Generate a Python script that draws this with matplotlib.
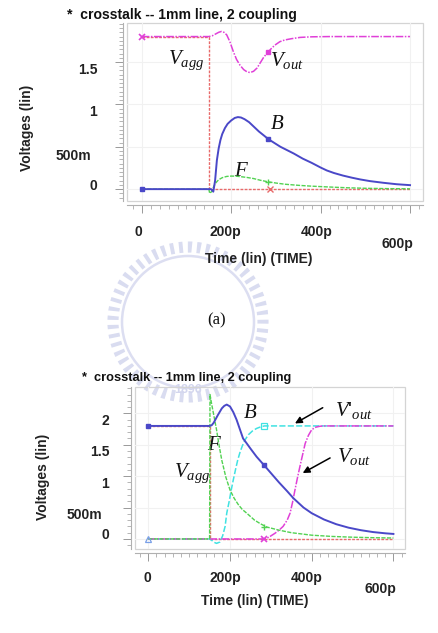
import numpy as np
import matplotlib
matplotlib.use('Agg')
import matplotlib.pyplot as plt
from matplotlib.transforms import ScaledTranslation
from matplotlib.patches import Rectangle, Circle
from matplotlib.ticker import MultipleLocator

plt.rcParams['font.family'] = ['Liberation Sans', 'DejaVu Sans']
plt.rcParams['mathtext.fontset'] = 'custom'
plt.rcParams['mathtext.it'] = 'Liberation Serif:italic'
plt.rcParams['mathtext.rm'] = 'Liberation Serif'

# ---------------- data (time in ps, voltage in V) ----------------
x_ticks = [0, 200, 400, 600]
x_labels = ['0', '200p', '400p', '600p']
top_yticks = [0, 0.5, 1, 1.5]
top_ylabels = ['0', '500m', '1', '1.5']
bot_yticks = [0, 0.5, 1, 1.5, 2]
bot_ylabels = ['0', '500m', '1', '1.5', '2']

# top panel (a)
a_vagg_t = [0, 150, 150, 600]
a_vagg_v = [1.8, 1.8, 0, 0]
a_vagg_mk_t = [0, 287]
a_vagg_mk_v = [1.8, 0]

a_vout_t = [0, 150, 158, 165, 172, 178, 184, 190, 197, 205, 212, 220, 228, 235, 242, 250,
            258, 265, 272, 278, 283, 290, 298, 309, 320, 335, 354, 380, 420, 600]
a_vout_v = [1.8, 1.8, 1.81, 1.83, 1.85, 1.86, 1.85, 1.82, 1.74, 1.62, 1.53, 1.46, 1.41, 1.385,
            1.375, 1.39, 1.43, 1.49, 1.55, 1.59, 1.62, 1.66, 1.70, 1.74, 1.76, 1.775, 1.79,
            1.797, 1.8, 1.8]
a_vout_mk_t = [283]
a_vout_mk_v = [1.62]

a_b_t = [0, 150, 155, 160, 164, 168, 172, 176, 180, 186, 192, 200, 208, 215, 222, 230, 240,
         250, 262, 275, 283, 295, 310, 325, 340, 360, 380, 400, 414, 430, 450, 470, 488, 510,
         540, 570, 600]
a_b_v = [0, 0, 0, -0.03, 0.1, 0.34, 0.48, 0.58, 0.65, 0.72, 0.77, 0.81, 0.84, 0.85, 0.845,
         0.825, 0.79, 0.74, 0.68, 0.625, 0.59, 0.55, 0.50, 0.46, 0.42, 0.36, 0.31, 0.255, 0.22,
         0.19, 0.16, 0.135, 0.115, 0.095, 0.075, 0.058, 0.047]
a_b_mk_t = [0, 283]
a_b_mk_v = [0, 0.59]

a_f_t = [0, 150, 152, 156, 160, 165, 170, 175, 180, 190, 200, 210, 220, 235, 250, 265, 283,
         300, 320, 350, 380, 420, 460, 500, 550, 600]
a_f_v = [0, 0, -0.05, -0.03, 0.02, 0.07, 0.10, 0.12, 0.135, 0.15, 0.154, 0.153, 0.148, 0.138,
         0.125, 0.105, 0.086, 0.072, 0.058, 0.045, 0.035, 0.025, 0.016, 0.01, 0.006, 0.004]
a_f_mk_t = [283]
a_f_mk_v = [0.086]

# bottom panel
b_vagg_t = [0, 150, 150, 600]
b_vagg_v = [1.8, 1.8, 0, 0]

b_b_t = [0, 150, 155, 160, 170, 180, 186, 192, 200, 208, 216, 224, 232, 240, 250, 265, 284,
         300, 320, 340, 355, 380, 400, 430, 460, 490, 520, 550, 580, 600]
b_b_v = [1.8, 1.8, 1.81, 1.85, 1.97, 2.08, 2.12, 2.14, 2.11, 2.02, 1.9, 1.75, 1.6, 1.53,
         1.44, 1.31, 1.17, 1.05, 0.9, 0.76, 0.65, 0.5, 0.41, 0.31, 0.235, 0.18, 0.14, 0.11,
         0.09, 0.08]
b_b_mk_t = [0, 284]
b_b_mk_v = [1.8, 1.17]

b_f_t = [0, 150, 151, 155, 160, 167, 173, 180, 190, 200, 210, 220, 230, 241, 260, 275, 290,
         320, 350, 400, 450, 500, 550, 600]
b_f_v = [0, 0, 2.3, 2.15, 1.98, 1.74, 1.5, 1.25, 0.98, 0.78, 0.65, 0.55, 0.47, 0.41, 0.3,
         0.24, 0.19, 0.14, 0.1, 0.06, 0.04, 0.028, 0.02, 0.015]
b_f_mk_t = [284]
b_f_mk_v = [0.19]

b_vp_t = [0, 150, 155, 160, 167, 175, 182, 188, 192, 198, 203, 208, 214, 219, 224, 230, 237,
          245, 255, 265, 273, 284, 300, 600]
b_vp_v = [0, 0, -0.02, -0.05, -0.07, -0.05, 0.05, 0.2, 0.41, 0.6, 0.78, 0.94, 1.12, 1.26,
          1.37, 1.48, 1.58, 1.66, 1.72, 1.76, 1.78, 1.8, 1.8, 1.8]
b_vp_mk0_t = [0]
b_vp_mk0_v = [0]
b_vp_mk1_t = [284]
b_vp_mk1_v = [1.8]

b_vout_t = [0, 280, 290, 298, 310, 320, 330, 340, 347, 353, 359, 365, 371, 378, 384, 392,
            400, 410, 420, 430, 600]
b_vout_v = [0, 0, 0.01, 0.04, 0.09, 0.14, 0.2, 0.3, 0.41, 0.58, 0.78, 0.97, 1.15, 1.35,
            1.52, 1.65, 1.74, 1.78, 1.795, 1.8, 1.8]
b_vout_mk_t = [284]
b_vout_mk_v = [0]

# ---------------- styling ----------------
W, H = 439, 633
fig = plt.figure(figsize=(W / 100, H / 100), dpi=100)

C_MAG = '#e040d8'
C_RED = '#e86a6a'
C_BLUE = '#4a48c8'
C_GREEN = '#52d252'
C_CYAN = '#40e2e2'

# faint watermark (decoration)
bg = fig.add_axes([0, 0, 1, 1], zorder=-5)
bg.set_xlim(0, W)
bg.set_ylim(H, 0)
bg.axis('off')
bg.add_patch(Circle((188, 322), 75, fill=False, lw=8, ec='#d9dcf0', ls=(0, (0.35, 0.45))))
bg.add_patch(Circle((188, 322), 66, fill=False, lw=1.8, ec='#dcdef1'))
bg.text(188, 390, '1896', ha='center', va='center', fontsize=9, fontweight='bold',
        color='#d3d6ee')


def px_axes(l, t, r, b):
    return [l / W, 1 - b / H, (r - l) / W, (b - t) / H]


def offset(lbl, dx, dy):
    lbl.set_transform(lbl.get_transform() +
                      ScaledTranslation(dx / 100, -dy / 100, fig.dpi_scale_trans))


def style(ax, xlim, ylim, yticks, ylabels, yminor, xpad, ypad, xoffs, yoffs):
    ax.set_facecolor('none')
    ax.set_xlim(*xlim)
    ax.set_ylim(*ylim)
    ax.spines['top'].set_visible(False)
    ax.spines['right'].set_visible(False)
    for s in ['left', 'bottom']:
        ax.spines[s].set_position(('outward', 3))
        ax.spines[s].set_color('#b0b0b0')
        ax.spines[s].set_linewidth(0.8)
    ax.add_patch(Rectangle((0, 0), 1, 1, transform=ax.transAxes, fill=False,
                           ec='#d4d4d4', lw=0.9, clip_on=False, zorder=0.5))
    ax.grid(True, which='major', color='#f1f1f1', lw=0.8, zorder=0)
    ax.set_axisbelow(True)
    ax.xaxis.set_minor_locator(MultipleLocator(20))
    ax.yaxis.set_minor_locator(MultipleLocator(yminor))
    ax.tick_params(which='major', direction='out', length=6, width=0.7, color='#999999')
    ax.tick_params(which='minor', direction='out', length=3, width=0.6, color='#aaaaaa')
    ax.tick_params(axis='x', which='major', pad=xpad, labelsize=10)
    ax.tick_params(axis='y', which='major', pad=ypad, labelsize=10)
    ax.set_xticks(x_ticks)
    ax.set_xticklabels(x_labels, fontweight='bold', color='#222222')
    ax.set_yticks(yticks)
    ax.set_yticklabels(ylabels, fontweight='bold', color='#222222')
    for tk, (dx, dy) in zip(ax.xaxis.get_major_ticks(), xoffs):
        offset(tk.label1, dx, dy)
    for tk, (dx, dy) in zip(ax.yaxis.get_major_ticks(), yoffs):
        offset(tk.label1, dx, dy)


lab_kw = dict(fontsize=15, color='#111111')

# ---------------- top panel ----------------
ax1 = fig.add_axes(px_axes(127, 23, 423, 201))
style(ax1, (-33, 629), (-0.14, 1.96), top_yticks, top_ylabels, 0.05, 8.5, 12.5,
      [(-3, 0), (-6, 0), (-4, 0), (-13, 12)],
      [(0, -5), (-6, 7.5), (0, 6.5), (0, 7)])
ax1.plot(a_vagg_t, a_vagg_v, color=C_RED, lw=1.0, ls=(0, (2, 1)), zorder=3)
ax1.plot(a_vout_t, a_vout_v, color=C_MAG, lw=1.1, ls=(0, (5, 1, 1, 1)), zorder=4)
ax1.plot(a_b_t, a_b_v, color=C_BLUE, lw=1.4, zorder=5)
ax1.plot(a_f_t, a_f_v, color=C_GREEN, lw=1.0, ls=(0, (3, 1)), zorder=4)
ax1.plot(a_vagg_mk_t[:1], a_vagg_mk_v[:1], 'x', color=C_MAG, ms=4, mew=1.2, zorder=6)
ax1.plot(a_vagg_mk_t[1:], a_vagg_mk_v[1:], 'x', color=C_RED, ms=4, mew=1.0, zorder=6)
ax1.plot(a_vout_mk_t, a_vout_mk_v, 's', color=C_MAG, ms=3, zorder=6)
ax1.plot(a_b_mk_t, a_b_mk_v, 's', color=C_BLUE, ms=3, zorder=6)
ax1.plot(a_f_mk_t, a_f_mk_v, '+', color=C_GREEN, ms=4, mew=1.0, zorder=6)

ax1.text(59, 1.52, r'$V_{agg}$', ha='left', va='center', **lab_kw)
ax1.text(287, 1.52, r'$V_{out}$', ha='left', va='center', **lab_kw)
ax1.text(302, 0.78, r'$B$', ha='center', va='center', **lab_kw)
ax1.text(222, 0.22, r'$F$', ha='center', va='center', **lab_kw)

ax1.set_ylabel('Voltages (lin)', fontsize=10, fontweight='bold', color='#222222')
ax1.yaxis.label.set_va('center')
ax1.yaxis.set_label_coords(-0.338, 0.41)
ax1.set_xlabel('Time (lin) (TIME)', fontsize=10, fontweight='bold', color='#222222')
ax1.xaxis.label.set_va('center')
ax1.xaxis.set_label_coords(0.446, -0.326)

fig.text(67 / W, 1 - 19 / H, '*  crosstalk -- 1mm line, 2 coupling', ha='left',
         va='baseline', fontsize=10.1, fontweight='bold', color='#111111')
fig.text(216.7 / W, 1 - 320 / H, '(a)', ha='center', va='center', fontsize=12,
         family='Liberation Serif', color='#111111')

# ---------------- bottom panel ----------------
ax2 = fig.add_axes(px_axes(135, 387, 405, 549))
style(ax2, (-32.6, 628.4), (-0.16, 2.42), bot_yticks, bot_ylabels, 0.1, 6.5, 9.5,
      [(-1, 0), (-5, 0), (-5, 0), (-13, 11)],
      [(0, -5), (-7, 5.5), (0, 6), (0, 6), (0, 6.5)])
ax2.plot(b_vagg_t, b_vagg_v, color=C_RED, lw=1.0, ls=(0, (2, 1)), zorder=3)
ax2.plot(b_vp_t, b_vp_v, color=C_CYAN, lw=1.1, ls=(0, (4, 1.5)), zorder=4)
ax2.plot(b_vout_t, b_vout_v, color=C_MAG, lw=1.1, ls=(0, (5, 1, 1, 1)), zorder=4)
ax2.plot(b_f_t, b_f_v, color=C_GREEN, lw=1.0, ls=(0, (3, 1)), zorder=4)
ax2.plot(b_b_t, b_b_v, color=C_BLUE, lw=1.4, zorder=5)
ax2.plot(b_b_mk_t, b_b_mk_v, 's', color=C_BLUE, ms=3, zorder=6)
ax2.plot(b_vp_mk0_t, b_vp_mk0_v, '^', mfc='none', mec='#7aa0e8', ms=4, mew=0.9, zorder=6)
ax2.plot(b_vp_mk1_t, b_vp_mk1_v, 's', mfc='none', mec=C_CYAN, ms=4, mew=0.9, zorder=6)
ax2.plot(b_vout_mk_t, b_vout_mk_v, 'x', color=C_MAG, ms=4, mew=1.2, zorder=6)
ax2.plot(b_f_mk_t, b_f_mk_v, '+', color=C_GREEN, ms=4, mew=1.0, zorder=6)

ax2.text(249, 2.01, r'$B$', ha='center', va='center', **lab_kw)
ax2.text(163, 1.50, r'$F$', ha='center', va='center', **lab_kw)
ax2.text(63, 1.05, r'$V_{agg}$', ha='left', va='center', **lab_kw)
ax2.text(457, 2.04, r"$V$'$_{out}$", ha='left', va='center', **lab_kw)
ax2.text(462, 1.31, r'$V_{out}$', ha='left', va='center', **lab_kw)
arrow_kw = dict(arrowstyle='-|>', color='black', lw=1.1, mutation_scale=10,
                shrinkA=0, shrinkB=0)
ax2.annotate('', xy=(359, 1.84), xytext=(427, 2.09), arrowprops=arrow_kw)
ax2.annotate('', xy=(378, 1.05), xytext=(445, 1.29), arrowprops=arrow_kw)

ax2.set_ylabel('Voltages (lin)', fontsize=10, fontweight='bold', color='#222222')
ax2.yaxis.label.set_va('center')
ax2.yaxis.set_label_coords(-0.34, 0.444)
ax2.set_xlabel('Time (lin) (TIME)', fontsize=10, fontweight='bold', color='#222222')
ax2.xaxis.label.set_va('center')
ax2.xaxis.set_label_coords(0.444, -0.321)

fig.text(82 / W, 1 - 381 / H, '*  crosstalk -- 1mm line, 2 coupling', ha='left',
         va='baseline', fontsize=9.2, fontweight='bold', color='#111111')

fig.savefig('out.png', dpi=100)
